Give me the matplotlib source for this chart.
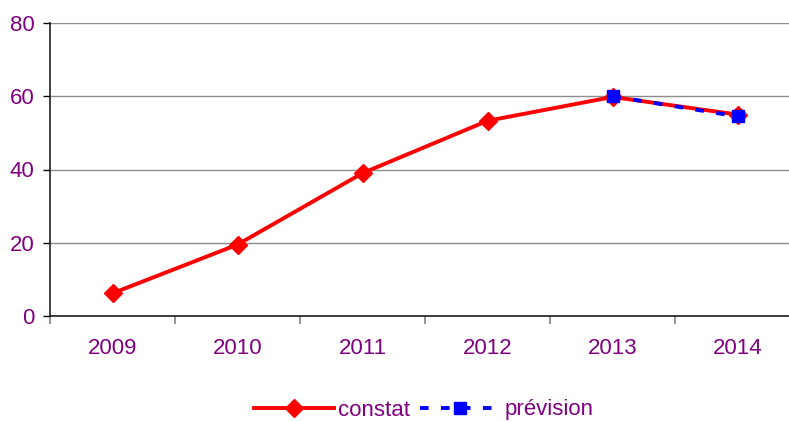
import matplotlib.pyplot as plt

# Data
years = ["2009", "2010", "2011", "2012", "2013", "2014"]
constat = [6.2, 19.5, 39.0, 53.3, 59.8, 55.0]
prevision_years = ["2013", "2014"]
prevision = [60.0, 54.5]

purple = "#800080"
plt.rcParams["font.family"] = ["Liberation Sans", "DejaVu Sans"]

fig = plt.figure(figsize=(7.89, 4.21), dpi=100)
ax = fig.add_axes([50 / 789, 1 - 316 / 421, 750 / 789, 293 / 421])

x = list(range(len(years)))
xp = [years.index(y) for y in prevision_years]

ax.plot(x, constat, color="red", linewidth=2.8, marker="D", markersize=9.5,
        label="constat", zorder=3)
ax.plot(xp, prevision, color="blue", linewidth=2.8, linestyle=(0, (2.2, 3.2)),
        marker="s", markersize=9, label="prévision", zorder=4)

ax.set_xlim(-0.5, len(years) - 0.5)
ax.set_ylim(0, 80)
ax.set_yticks([0, 20, 40, 60, 80])
ax.yaxis.grid(True, color="#8c8c8c", linewidth=1)
ax.set_axisbelow(True)

# category labels centred, tick marks on the boundaries
ax.set_xticks(x)
ax.set_xticklabels(years)
ax.set_xticks([i - 0.5 for i in range(len(years) + 1)], minor=True)
ax.tick_params(axis="x", which="major", length=0, pad=16, labelsize=16,
               labelcolor=purple)
ax.tick_params(axis="x", which="minor", length=6, color="#808080", width=1.2)
ax.tick_params(axis="y", length=5, width=1, labelsize=16, labelcolor=purple,
               pad=6)

ax.spines["top"].set_visible(False)
ax.spines["right"].set_visible(False)
ax.spines["left"].set_color("#202020")
ax.spines["bottom"].set_color("#202020")
ax.spines["left"].set_linewidth(1.2)
ax.spines["bottom"].set_linewidth(1.2)

leg = fig.legend(loc="center", bbox_to_anchor=(0.537, 1 - 410 / 421), ncol=2,
                 frameon=False, fontsize=16, handlelength=3.6,
                 columnspacing=0.45, handletextpad=0.2)
for t in leg.get_texts():
    t.set_color(purple)

fig.savefig("out.png", dpi=100)
